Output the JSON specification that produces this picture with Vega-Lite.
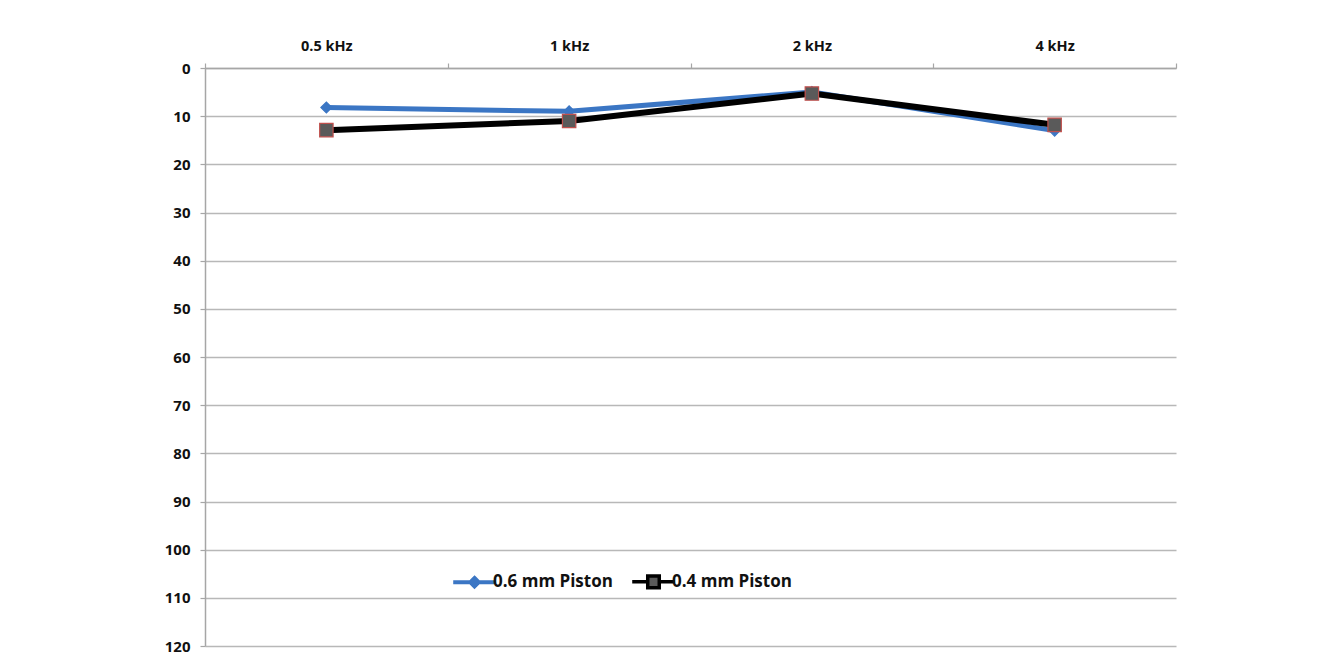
{
  "$schema": "https://vega.github.io/schema/vega-lite/v6.json",
  "autosize": {"type": "none"},
  "padding": {"left": 205, "top": 68, "right": 162, "bottom": 11},
  "width": 971,
  "height": 578,
  "background": "white",
  "config": {
    "view": {"stroke": null},
    "font": "Open Sans"
  },
  "data": {
    "values": [
      {"freq": "0.5 kHz", "series": "0.6 mm Piston", "value": 8.2},
      {"freq": "1 kHz", "series": "0.6 mm Piston", "value": 9.0},
      {"freq": "2 kHz", "series": "0.6 mm Piston", "value": 5.0},
      {"freq": "4 kHz", "series": "0.6 mm Piston", "value": 13.0},
      {"freq": "0.5 kHz", "series": "0.4 mm Piston", "value": 12.9},
      {"freq": "1 kHz", "series": "0.4 mm Piston", "value": 11.0},
      {"freq": "2 kHz", "series": "0.4 mm Piston", "value": 5.3},
      {"freq": "4 kHz", "series": "0.4 mm Piston", "value": 11.8}
    ]
  },
  "encoding": {
    "x": {
      "field": "freq",
      "type": "nominal",
      "sort": ["0.5 kHz", "1 kHz", "2 kHz", "4 kHz"],
      "scale": {"paddingInner": 0, "paddingOuter": 0},
      "axis": {
        "orient": "top",
        "title": null,
        "labelAngle": 0,
        "tickBand": "extent",
        "tickSize": 5,
        "tickColor": "#a6a6a6",
        "tickWidth": 1.2,
        "domainColor": "#a6a6a6",
        "domainWidth": 1.5,
        "labelFont": "Open Sans",
        "labelFontWeight": "bold",
        "labelFontSize": 14.5,
        "labelColor": "#111111",
        "labelPadding": 10
      }
    },
    "y": {
      "field": "value",
      "type": "quantitative",
      "scale": {"domain": [0, 120], "reverse": true, "nice": false},
      "axis": {
        "title": null,
        "values": [0, 10, 20, 30, 40, 50, 60, 70, 80, 90, 100, 110, 120],
        "grid": true,
        "gridColor": "#b8b8b8",
        "gridWidth": 1.5,
        "tickSize": 5,
        "tickColor": "#a6a6a6",
        "tickWidth": 1.2,
        "domainColor": "#a6a6a6",
        "domainWidth": 1.5,
        "labelFont": "Open Sans",
        "labelFontWeight": "bold",
        "labelFontSize": 15,
        "labelColor": "#111111",
        "labelPadding": 10
      }
    }
  },
  "layer": [
    {
      "mark": {"type": "line", "strokeCap": "round", "strokeJoin": "round"},
      "encoding": {
        "color": {
          "field": "series",
          "type": "nominal",
          "scale": {"domain": ["0.6 mm Piston", "0.4 mm Piston"], "range": ["#3b76c4", "#000000"]},
          "legend": {
            "orient": "none",
            "legendX": 261,
            "legendY": 505,
            "direction": "horizontal",
            "title": null,
            "padding": 0,
            "labelFont": "Open Sans",
            "labelFontWeight": "bold",
            "labelFontSize": 17,
            "labelColor": "#111111",
            "labelOffset": 10,
            "columnPadding": 12,
            "symbolSize": 1024,
            "symbolStrokeWidth": 4.5,
            "encode": {
              "symbols": {
                "update": {
                  "shape": {"signal": "datum.value === '0.6 mm Piston' ? 'M-1.33,0L1.33,0M0,-0.26L0.26,0L0,0.26L-0.26,0Z' : 'M-1.33,0L-0.36,0M0.36,0L1.33,0M-0.36,-0.36L0.36,-0.36L0.36,0.36L-0.36,0.36Z'"},
                  "fill": {"signal": "datum.value === '0.6 mm Piston' ? '#3b76c4' : '#5a5a5a'"},
                  "stroke": {"signal": "datum.value === '0.6 mm Piston' ? '#3b76c4' : '#000000'"},
                  "strokeWidth": {"signal": "datum.value === '0.6 mm Piston' ? 4 : 3.5"},
                  "opacity": {"value": 1},
                  "fillOpacity": {"value": 1}
                }
              }
            }
          }
        },
        "strokeWidth": {
          "condition": {"test": "datum.series === '0.6 mm Piston'", "value": 5},
          "value": 6
        }
      }
    },
    {
      "mark": {"type": "point", "filled": false, "opacity": 1, "strokeWidth": 1.2},
      "encoding": {
        "shape": {
          "condition": {"test": "datum.series === '0.6 mm Piston'", "value": "diamond"},
          "value": "square"
        },
        "fill": {
          "condition": {"test": "datum.series === '0.6 mm Piston'", "value": "#3b76c4"},
          "value": "#5a5a5a"
        },
        "stroke": {
          "condition": {"test": "datum.series === '0.6 mm Piston'", "value": "#3b76c4"},
          "value": "#c0504d"
        },
        "size": {
          "condition": {"test": "datum.series === '0.6 mm Piston'", "value": 120},
          "value": 180
        }
      }
    }
  ]
}
